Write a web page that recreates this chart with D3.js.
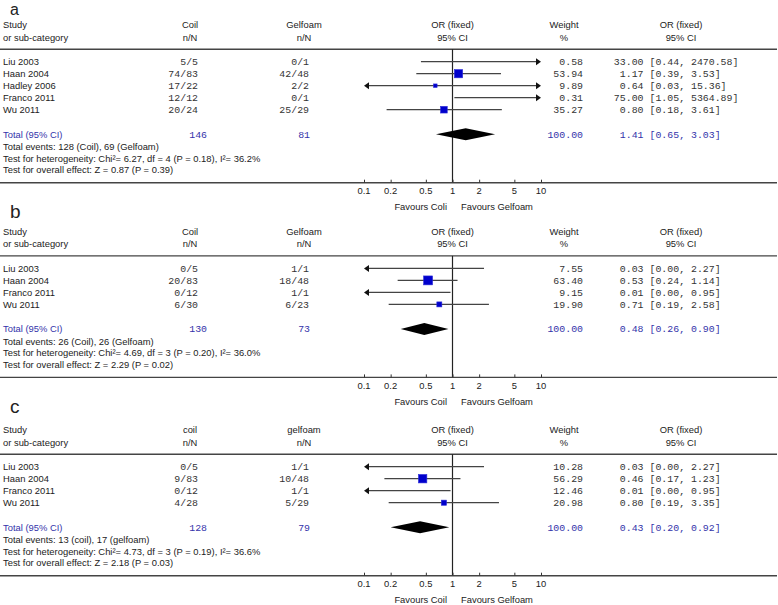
<!DOCTYPE html>
<html>
<head>
<meta charset="utf-8">
<script src="https://cdn.jsdelivr.net/npm/d3@7"></script>
<style>
  html, body { margin: 0; padding: 0; background: #fff; }
  svg { display: block; }
</style>
</head>
<body>
<svg id="chart" width="778" height="605"></svg>
<script>
// ---------- DATA ----------
const tickValues = [0.1, 0.2, 0.5, 1, 2, 5, 10];
const tickLabels = ["0.1", "0.2", "0.5", "1", "2", "5", "10"];

// Panel a
const studiesA = ["Liu 2003", "Haan 2004", "Hadley 2006", "Franco 2011", "Wu 2011"];
const coilA = ["5/5", "74/83", "17/22", "12/12", "20/24"];
const gelA = ["0/1", "42/48", "2/2", "0/1", "25/29"];
const weightA = [0.58, 53.94, 9.89, 0.31, 35.27];
const orA = [33.00, 1.17, 0.64, 75.00, 0.80];
const lowA = [0.44, 0.39, 0.03, 1.05, 0.18];
const highA = [2470.58, 3.53, 15.36, 5364.89, 3.61];
const totalA = { coil: "146", gel: "81", weight: 100.00, or: 1.41, low: 0.65, high: 3.03 };

// Panel b
const studiesB = ["Liu 2003", "Haan 2004", "Franco 2011", "Wu 2011"];
const coilB = ["0/5", "20/83", "0/12", "6/30"];
const gelB = ["1/1", "18/48", "1/1", "6/23"];
const weightB = [7.55, 63.40, 9.15, 19.90];
const orB = [0.03, 0.53, 0.01, 0.71];
const lowB = [0.00, 0.24, 0.00, 0.19];
const highB = [2.27, 1.14, 0.95, 2.58];
const totalB = { coil: "130", gel: "73", weight: 100.00, or: 0.48, low: 0.26, high: 0.90 };

// Panel c
const studiesC = ["Liu 2003", "Haan 2004", "Franco 2011", "Wu 2011"];
const coilC = ["0/5", "9/83", "0/12", "4/28"];
const gelC = ["1/1", "10/48", "1/1", "5/29"];
const weightC = [10.28, 56.29, 12.46, 20.98];
const orC = [0.03, 0.46, 0.01, 0.80];
const lowC = [0.00, 0.17, 0.00, 0.19];
const highC = [2.27, 1.23, 0.95, 3.35];
const totalC = { coil: "128", gel: "79", weight: 100.00, or: 0.43, low: 0.20, high: 0.92 };

const panelLetters = ["a", "b", "c"];
const col1Names = ["Coil", "Coil", "coil"];
const col2Names = ["Gelfoam", "Gelfoam", "gelfoam"];
const eventsText = [
  "Total events: 128 (Coil), 69 (Gelfoam)",
  "Total events: 26 (Coil), 26 (Gelfoam)",
  "Total events: 13 (coil), 17 (gelfoam)"
];
const hetText = [
  "Test for heterogeneity: Chi\u00B2= 6.27, df = 4 (P = 0.18), I\u00B2= 36.2%",
  "Test for heterogeneity: Chi\u00B2= 4.69, df = 3 (P = 0.20), I\u00B2= 36.0%",
  "Test for heterogeneity: Chi\u00B2= 4.73, df = 3 (P = 0.19), I\u00B2= 36.6%"
];
const overallText = [
  "Test for overall effect: Z = 0.87 (P = 0.39)",
  "Test for overall effect: Z = 2.29 (P = 0.02)",
  "Test for overall effect: Z = 2.18 (P = 0.03)"
];
const favLeft = ["Favours Coli", "Favours Coil", "Favours Coil"];
const favRight = ["Favours Gelfoam", "Favours Gelfoam", "Favours Gelfoam"];

// ---------- LAYOUT ----------
const headerYs = [25, 231.7, 430];
const letterYs = [14.6, 218.3, 413.3];
const letterSizes = [16, 19, 19];

const SANS = "'Liberation Sans', Arial, sans-serif";
const MONO = "'Liberation Mono', 'Courier New', monospace";
const FS = 9.4, FM = 9.9;
const TXT = "#222", MTXT = "#333", BLUE = "#3333aa";

const x = d3.scaleLog().domain([0.1, 10]).range([364, 541]);

const svg = d3.select("#chart");

function sansText(g, xx, yc, str, anchor, color) {
  return g.append("text").attr("x", xx).attr("y", yc + 3.4)
    .attr("text-anchor", anchor || "start")
    .attr("font-family", SANS).attr("font-size", FS)
    .attr("fill", color || TXT).text(str);
}
function monoText(g, xx, yc, str, anchor, color) {
  return g.append("text").attr("x", xx).attr("y", yc + 3.2)
    .attr("text-anchor", anchor || "start")
    .attr("font-family", MONO).attr("font-size", FM)
    .attr("fill", color || MTXT).text(str);
}

function drawPanel(p, studies, coil, gel, weight, or, low, high, total) {
  const g = svg.append("g");
  const H = headerYs[p];
  const lo = x.domain()[0], hi = x.domain()[1];

  // panel letter
  g.append("text").attr("x", 10).attr("y", letterYs[p])
    .attr("font-family", SANS).attr("font-size", letterSizes[p]).attr("fill", TXT)
    .text(panelLetters[p]);

  // headers
  sansText(g, 3, H, "Study");
  sansText(g, 3, H + 12.3, "or sub-category");
  sansText(g, 190, H, col1Names[p], "middle");
  sansText(g, 190, H + 12.3, "n/N", "middle");
  sansText(g, 304, H, col2Names[p], "middle");
  sansText(g, 304, H + 12.3, "n/N", "middle");
  sansText(g, x(1), H, "OR (fixed)", "middle");
  sansText(g, x(1), H + 12.3, "95% CI", "middle");
  sansText(g, 564, H, "Weight", "middle");
  sansText(g, 564, H + 12.3, "%", "middle");
  sansText(g, 681, H, "OR (fixed)", "middle");
  sansText(g, 681, H + 12.3, "95% CI", "middle");

  const topRule = H + 24.2;
  g.append("line").attr("x1", 0).attr("x2", 777).attr("y1", topRule).attr("y2", topRule)
    .attr("stroke", "#444").attr("stroke-width", 1.4);

  const rowY = i => H + 36.7 + 12 * i;
  const totY = rowY(studies.length - 1) + 24.6;
  const axisY = totY + 48.4;

  // vertical line at OR=1
  g.append("line").attr("x1", x(1)).attr("x2", x(1)).attr("y1", topRule).attr("y2", axisY)
    .attr("stroke", "#222").attr("stroke-width", 1.2);

  studies.forEach((s, i) => {
    const y = rowY(i);
    sansText(g, 3, y, s);
    monoText(g, 198, y, coil[i], "end");
    monoText(g, 309, y, gel[i], "end");
    monoText(g, 583, y, weight[i].toFixed(2), "end");
    monoText(g, 643.5, y, or[i].toFixed(2), "end");
    monoText(g, 649.5, y, "[" + low[i].toFixed(2) + ", " + high[i].toFixed(2) + "]");

    // CI line
    const l = Math.max(low[i], lo), h = Math.min(high[i], hi);
    const arrowL = low[i] < lo, arrowR = high[i] > hi;
    const x1 = x(l) + (arrowL ? 4 : 0), x2 = x(h) - (arrowR ? 4 : 0);
    g.append("line").attr("x1", x1).attr("x2", x2).attr("y1", y).attr("y2", y)
      .attr("stroke", "#444").attr("stroke-width", 1.2);
    if (arrowR) {
      const t = x(hi);
      g.append("path").attr("d", `M${t},${y} L${t - 5},${y - 3.5} L${t - 5},${y + 3.5} Z`).attr("fill", "#111");
    }
    if (arrowL) {
      const t = x(lo);
      g.append("path").attr("d", `M${t},${y} L${t + 5},${y - 3.5} L${t + 5},${y + 3.5} Z`).attr("fill", "#111");
    }
    // box
    if (or[i] >= lo && or[i] <= hi) {
      const sz = 1.12 * Math.sqrt(weight[i]);
      g.append("rect").attr("x", x(or[i]) - sz / 2).attr("y", y - sz / 2)
        .attr("width", sz).attr("height", sz)
        .attr("fill", "#0000cc").attr("stroke", "#2a2ad8").attr("stroke-width", 0.6);
    }
  });

  // total row
  sansText(g, 3, totY, "Total (95% CI)", "start", BLUE);
  monoText(g, 207, totY, total.coil, "end", BLUE);
  monoText(g, 310, totY, total.gel, "end", BLUE);
  monoText(g, 583, totY, total.weight.toFixed(2), "end", BLUE);
  monoText(g, 643.5, totY, total.or.toFixed(2), "end", BLUE);
  monoText(g, 649.5, totY, "[" + total.low.toFixed(2) + ", " + total.high.toFixed(2) + "]", "start", BLUE);

  const dh = 6;
  g.append("path")
    .attr("d", `M${x(total.low)},${totY} L${x(total.or)},${totY - dh} L${x(total.high)},${totY} L${x(total.or)},${totY + dh} Z`)
    .attr("fill", "#000");

  sansText(g, 3, totY + 12.4, eventsText[p]);
  sansText(g, 3, totY + 24, hetText[p]);
  sansText(g, 3, totY + 35.7, overallText[p]);

  // bottom rule / axis
  g.append("line").attr("x1", 0).attr("x2", 777).attr("y1", axisY).attr("y2", axisY)
    .attr("stroke", "#444").attr("stroke-width", 1.4);

  const axisG = g.append("g").attr("transform", `translate(0,${axisY})`);
  const axis = d3.axisTop(x).tickValues(tickValues).tickSize(3).tickFormat((d, i) => tickLabels[i]);
  axisG.call(axis);
  axisG.select(".domain").remove();
  axisG.selectAll(".tick line").attr("stroke", "#333");
  axisG.selectAll(".tick text").remove();
  tickValues.forEach((v, i) => {
    sansText(g, x(v), totY + 56.5, tickLabels[i], "middle");
  });

  sansText(g, x(1) - 5.5, totY + 72.5, favLeft[p], "end");
  sansText(g, x(1) + 8.5, totY + 72.5, favRight[p], "start");
}

drawPanel(0, studiesA, coilA, gelA, weightA, orA, lowA, highA, totalA);
drawPanel(1, studiesB, coilB, gelB, weightB, orB, lowB, highB, totalB);
drawPanel(2, studiesC, coilC, gelC, weightC, orC, lowC, highC, totalC);
</script>
</body>
</html>
